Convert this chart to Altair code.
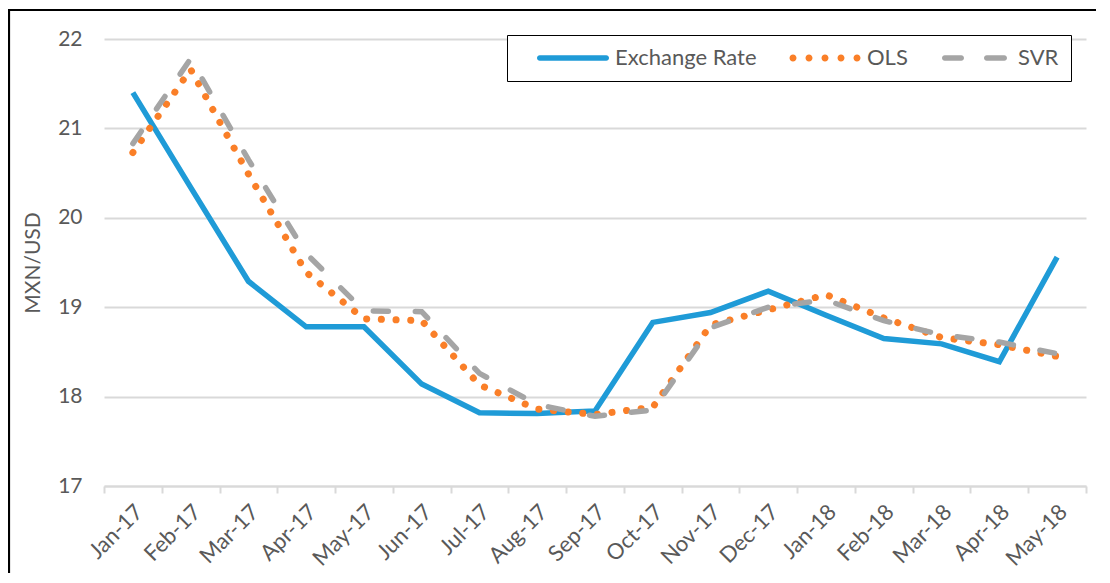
import altair as alt
import pandas as pd

months = ["Jan-17", "Feb-17", "Mar-17", "Apr-17", "May-17", "Jun-17", "Jul-17", "Aug-17",
          "Sep-17", "Oct-17", "Nov-17", "Dec-17", "Jan-18", "Feb-18", "Mar-18", "Apr-18", "May-18"]
exchange = [21.40, 20.34, 19.29, 18.78, 18.78, 18.14, 17.82, 17.81, 17.84, 18.83, 18.94, 19.18,
            18.91, 18.65, 18.59, 18.39, 19.56]
ols = [20.73, 21.66, 20.49, 19.39, 18.87, 18.85, 18.13, 17.86, 17.80, 17.88, 18.80, 18.97,
       19.14, 18.88, 18.66, 18.58, 18.45]
svr = [20.83, 21.78, 20.65, 19.60, 18.96, 18.95, 18.26, 17.91, 17.78, 17.85, 18.77, 19.00,
       19.08, 18.85, 18.69, 18.61, 18.48]
series_names = ["Exchange Rate", "OLS", "SVR"]
y_ticks = [17, 18, 19, 20, 21, 22]

BLUE, ORANGE, GRAY = "#1F9BD7", "#FA7F28", "#A5A5A5"
TXT = "#595959"
GRID = "#D9D9D9"
FONT = "Lato"

rows = []
for name, vals in zip(series_names, [exchange, ols, svr]):
    for m, v in zip(months, vals):
        rows.append({"month": m, "series": name, "value": v})
df = pd.DataFrame(rows)

# ---- legend symbol shapes (unit = 10px, relative to the symbol anchor) ----
def capsule(x0, x1, h=0.275):
    return (f"M{x0},{-h} L{x1},{-h} A{h},{h} 0 0,1 {x1},{h} "
            f"L{x0},{h} A{h},{h} 0 0,1 {x0},{-h} Z")

def dot(cx, r=0.35):
    return f"M{cx - r},0 A{r},{r} 0 1,0 {cx + r},0 A{r},{r} 0 1,0 {cx - r},0 Z"

shape_blue = capsule(-0.825, 5.825)
shape_ols = " ".join(dot(c) for c in [-0.7, 0.9, 2.5, 4.1, 5.7])
shape_svr = capsule(-0.625, 1.025) + " " + capsule(3.575, 5.325)

legend = alt.Legend(
    title=" ", titleOrient="left", titlePadding=18, titleFontSize=11,
    orient="none", legendX=403, legendY=-4, direction="horizontal",
    symbolSize=400, symbolOffset=0, labelOffset=56, symbolStrokeWidth=0,
    labelFont=FONT, labelFontSize=22, labelColor=TXT, columnPadding=32,
    padding=12, fillColor="white", strokeColor="black", labelLimit=0,
)

x_enc = alt.X(
    "month:N", sort=months, bandPosition=0.5,
    scale=alt.Scale(type="band", domain=months, paddingInner=0, paddingOuter=0),
    axis=alt.Axis(
        title=None, tickBand="extent", labelAngle=-45, labelAlign="right",
        labelBaseline="top", labelFont=FONT, labelFontSize=22, labelColor=TXT,
        labelPadding=8, labelOffset=-1, domainColor=GRID, domainWidth=2,
        tickColor=GRID, tickWidth=2, tickSize=7, grid=False, labelOverlap=False,
    ),
)
y_enc = alt.Y(
    "value:Q",
    scale=alt.Scale(domain=[17, 22], nice=False, zero=False),
    axis=alt.Axis(
        title="MXN/USD", values=y_ticks, grid=True, gridColor=GRID, gridWidth=1.8,
        domain=False, ticks=False, labelFont=FONT, labelFontSize=21, labelColor=TXT,
        labelPadding=22, titleFont=FONT, titleFontSize=21, titleFontWeight="normal",
        titleColor=TXT, titlePadding=14,
    ),
)

base = alt.Chart(df).encode(x=x_enc, y=y_enc)

line_ex = base.transform_filter(alt.datum.series == "Exchange Rate").mark_line(
    color=BLUE, strokeWidth=5.5)
line_ols = base.transform_filter(alt.datum.series == "OLS").mark_line(
    color=ORANGE, strokeWidth=7, strokeCap="round", strokeDash=[0.1, 14.6])
line_svr = base.transform_filter(alt.datum.series == "SVR").mark_line(
    color=GRAY, strokeWidth=5.5, strokeCap="round", strokeDash=[15, 27])

legend_carrier = alt.Chart(df).transform_filter("false").mark_point(
    filled=True, size=400, opacity=1).encode(
    color=alt.Color("series:N", scale=alt.Scale(domain=series_names, range=[BLUE, ORANGE, GRAY]),
                    legend=legend),
    shape=alt.Shape("series:N", scale=alt.Scale(domain=series_names,
                                                range=[shape_blue, shape_ols, shape_svr]),
                    legend=legend),
)

frame = alt.Chart(pd.DataFrame({"k": [0]})).mark_rect(
    fill=None, stroke="black", strokeWidth=2.2, clip=False).encode(
    x=alt.value(-95), x2=alt.value(1100), y=alt.value(-29), y2=alt.value(700))

chart = alt.layer(line_ex, line_ols, line_svr, legend_carrier, frame).properties(
    width=982, height=447,
    padding={"left": 96, "top": 31, "right": 10, "bottom": 87},
    autosize=alt.AutoSizeParams(type="none"),
).configure_view(stroke=None)

chart.save("out.html", embed_options={"renderer": "svg", "actions": False})
